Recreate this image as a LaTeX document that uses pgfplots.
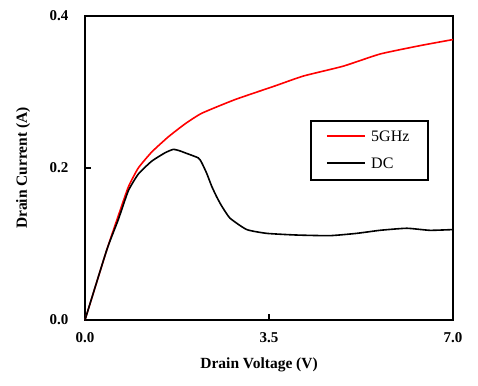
\documentclass[border=0pt]{standalone}
\usepackage{fontspec}
\setmainfont{Liberation Serif}
\usepackage{pgfplots}
\pgfplotsset{compat=1.18}
\begin{document}
\begin{tikzpicture}
\useasboundingbox (-85pt,-65pt) rectangle (393pt,320pt);
\begin{axis}[
  scale only axis,
  width=368pt, height=304pt,
  xmin=0, xmax=7, ymin=0, ymax=0.4,
  xtick={0,3.5,7}, ytick={0,0.2,0.4},
  tick pos=left,
  tick align=inside,
  major tick length=6pt,
  axis line style={line width=1.6pt},
  every tick/.append style={draw=black, line width=2pt},
  clip=false,
  /pgf/number format/assume math mode=true,
  xticklabel={\pgfmathprintnumber[fixed,fixed zerofill,precision=1]{\tick}},
  yticklabel={\pgfmathprintnumber[fixed,fixed zerofill,precision=1]{\tick}},
  ticklabel style={font=\fontsize{15}{18}\selectfont\bfseries},
  yticklabel style={xshift=-13pt},
  xticklabel style={yshift=-9pt},
  xlabel={Drain Voltage (V)},
  ylabel={Drain Current (A)},
  label style={font=\fontsize{15.5}{18}\selectfont\bfseries},
  xlabel style={at={(axis description cs:0.473,-0.148)}, anchor=center},
  ylabel style={at={(axis description cs:-0.168,0.5)}, anchor=center, rotate=0},
]
\addplot[red, line width=1.6pt, smooth, tension=0.3] coordinates {
(0,0) (0.413,0.092) (0.633,0.137) (0.824,0.175) (1.014,0.200) (1.269,0.221) (1.585,0.241) (1.902,0.258) (2.22,0.272) (2.853,0.290) (3.614,0.308) (4.153,0.321) (4.913,0.334) (5.614,0.350) (6.372,0.361) (7,0.369)
};
\addplot[black, line width=1.6pt, smooth, tension=0.3] coordinates {
(0,0) (0.413,0.092) (0.633,0.132) (0.824,0.170) (1.014,0.192) (1.269,0.209) (1.522,0.220) (1.68,0.2245) (1.807,0.2225) (1.902,0.220) (2.155,0.2133) (2.22,0.207) (2.315,0.193) (2.41,0.176) (2.505,0.162) (2.60,0.150) (2.758,0.134) (3.076,0.119) (3.456,0.114) (4.027,0.1118) (4.66,0.111) (5.168,0.114) (5.61,0.118) (6.12,0.1207) (6.56,0.118) (7.0,0.119)
};
% inner tick marks
\draw[black, line width=2pt] (axis cs:3.5,0) -- ++(0pt,6pt);
\draw[black, line width=2pt] (axis cs:0,0.2) -- ++(6pt,0pt);
% legend
\draw[line width=1.4pt, fill=white] (axis description cs:0.614,0.6546) rectangle (axis description cs:0.932,0.4605);
\draw[red, line width=1.6pt] (axis description cs:0.6576,0.605) -- (axis description cs:0.7609,0.605);
\draw[black, line width=1.6pt] (axis description cs:0.6576,0.5164) -- (axis description cs:0.7609,0.5164);
\node[anchor=west, inner sep=0pt, font=\fontsize{16}{18}\selectfont] at (axis description cs:0.7772,0.605) {5GHz};
\node[anchor=west, inner sep=0pt, font=\fontsize{16}{18}\selectfont] at (axis description cs:0.7772,0.5164) {DC};
\end{axis}
\end{tikzpicture}
\end{document}
